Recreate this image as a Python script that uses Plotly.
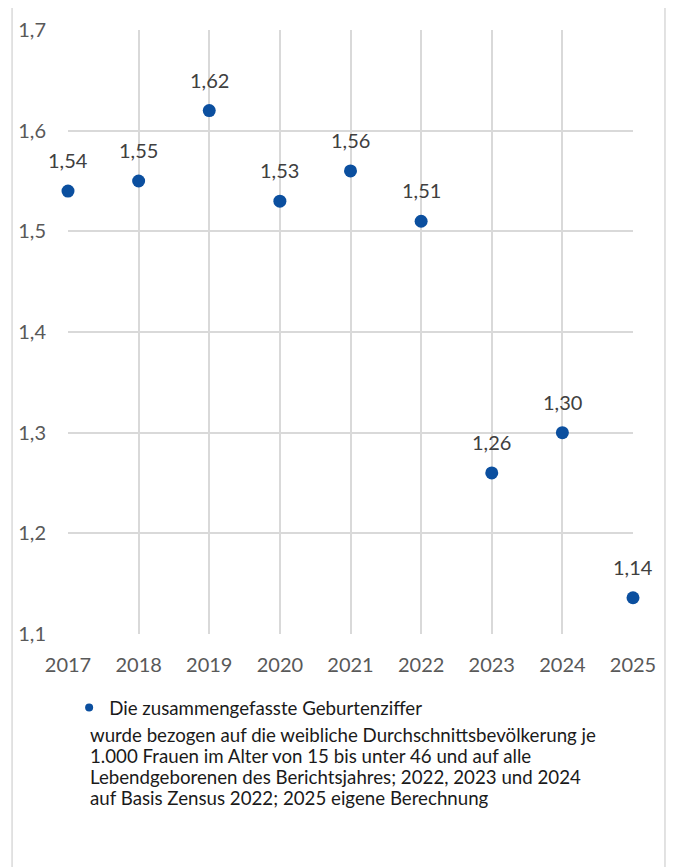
import plotly.graph_objects as go

years = [2017, 2018, 2019, 2020, 2021, 2022, 2023, 2024, 2025]
rates = [1.54, 1.55, 1.62, 1.53, 1.56, 1.51, 1.26, 1.30, 1.136]
labels = [f"{v:.2f}".replace(".", ",") for v in rates]

series_name = "Die zusammengefasste Geburtenziffer"
note_lines = [
    "wurde bezogen auf die weibliche Durchschnittsbevölkerung je",
    "1.000 Frauen im Alter von 15 bis unter 46 und auf alle",
    "Lebendgeborenen des Berichtsjahres; 2022, 2023 und 2024",
    "auf Basis Zensus 2022; 2025 eigene Berechnung",
]

blue = "#0b4f9f"
grid = "#d9d9d9"

fig = go.Figure()
fig.add_trace(go.Scatter(
    x=years, y=rates, mode="markers", name=series_name, showlegend=False,
    marker=dict(color=blue, size=13), cliponaxis=False,
))
# legend entry only (smaller marker than the data points)
fig.add_trace(go.Scatter(
    x=[None], y=[None], mode="markers", name=series_name,
    marker=dict(color=blue, size=8),
))

for x, y, t in zip(years, rates, labels):
    fig.add_annotation(x=x, y=y, text=t, showarrow=False, yshift=31,
                       font=dict(size=20, color="#404040"))

# footnote, one line per annotation to keep the tight line spacing
for i, line in enumerate(note_lines):
    fig.add_annotation(
        xref="paper", yref="paper", x=0.0354, y=(634 - (735 + 21 * i)) / 604,
        xanchor="left", yanchor="middle", showarrow=False, text=line,
        font=dict(size=18.7, color="#1a1a1a"),
    )

# outer chart frame
fig.add_shape(type="rect", xref="paper", yref="paper",
              x0=-0.099, x1=1.0566, y0=-0.45, y1=1.0414,
              line=dict(color=grid, width=1.5), layer="below")

# page body has an 8px margin, so the figure is 8px smaller than the window
fig.update_layout(
    width=671, height=859,
    margin=dict(l=60, r=46, t=22, b=233),
    paper_bgcolor="white", plot_bgcolor="white",
    separators=",.",
    font=dict(family="Lato, sans-serif", color="#595959"),
    showlegend=True,
    legend=dict(x=0.002, y=-0.091, xanchor="left", yanchor="top",
                font=dict(size=18.7, color="#1a1a1a"), itemwidth=30,
                bgcolor="rgba(0,0,0,0)"),
    xaxis=dict(range=[2017, 2025], tickvals=years, showgrid=True, automargin=False,
               gridcolor=grid, gridwidth=1.5, zeroline=False, showline=False,
               tickfont=dict(size=20, color="#595959"), ticklabelstandoff=17),
    yaxis=dict(range=[1.1, 1.7], dtick=0.1, tickformat=".1f", showgrid=True,
               automargin=False,
               gridcolor=grid, gridwidth=1.5, zeroline=False, showline=False,
               tickfont=dict(size=20, color="#595959"), ticklabelstandoff=21),
)

fig.write_html("out.html")
